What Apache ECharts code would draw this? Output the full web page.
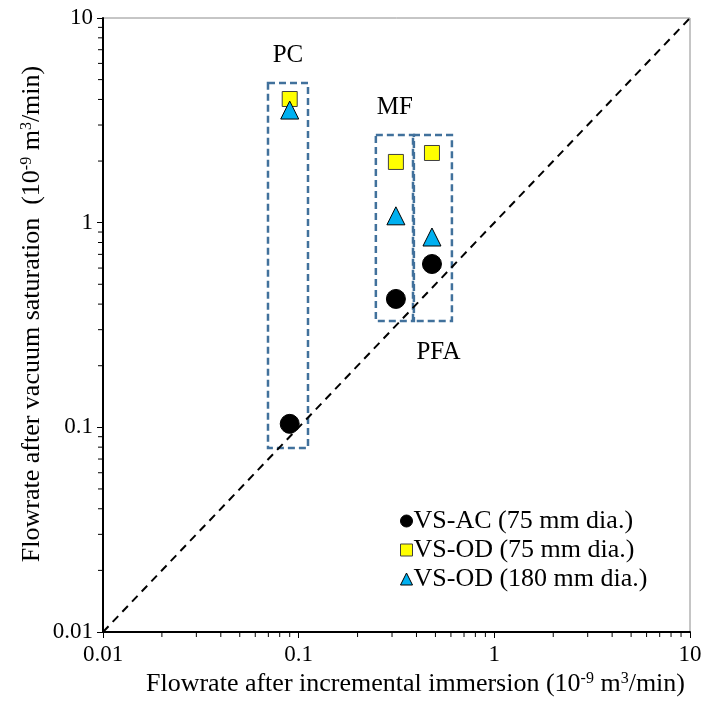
<!DOCTYPE html>
<html>
<head>
<meta charset="utf-8">
<script src="https://cdn.jsdelivr.net/npm/echarts@6/dist/echarts.min.js"></script>
<style>
  html, body { margin: 0; padding: 0; background: #fff; }
  #chart { width: 707px; height: 724px; }
</style>
</head>
<body>
<div id="chart"></div>
<script>
var font = "'Liberation Serif', 'Times New Roman', serif";

// points: [flowrate after immersion, flowrate after vacuum saturation]
var vsAc75 = [[0.090, 0.104], [0.314, 0.424], [0.480, 0.628]];
var vsOd75 = [[0.090, 4.02], [0.314, 1.98], [0.480, 2.19]];
var vsOd180 = [[0.090, 3.55], [0.314, 1.08], [0.480, 0.851]];

// groups: x0, x1, y0, y1
var groupNames = ['PC', 'MF', 'PFA'];
var groupBoxes = [
  [0.0697, 0.1116, 0.0793, 4.81],
  [0.248, 0.388, 0.331, 2.68],
  [0.384, 0.607, 0.331, 2.68]
];
var groupLabelSide = ['top', 'top', 'bottom'];
var groupLabelDx = [0, 0, 6];

var unityLine = [[0.01, 0.01], [10, 10]];
var minorTicks = [0.02, 0.03, 0.04, 0.05, 0.06, 0.07, 0.08, 0.09,
                  0.2, 0.3, 0.4, 0.5, 0.6, 0.7, 0.8, 0.9,
                  2, 3, 4, 5, 6, 7, 8, 9];

var chart = echarts.init(document.getElementById('chart'), null, { renderer: 'canvas' });

var boxData = groupBoxes.map(function(b, i) {
  return { name: groupNames[i], value: [b[0], b[1], b[2], b[3], i] };
});

function renderBox(params, api) {
  var i = api.value(4);
  var p0 = api.coord([api.value(0), api.value(3)]);
  var p1 = api.coord([api.value(1), api.value(2)]);
  var cx = (p0[0] + p1[0]) / 2 + groupLabelDx[i];
  var side = groupLabelSide[i];
  return {
    type: 'group',
    children: [{
      type: 'rect',
      shape: { x: p0[0], y: p0[1], width: p1[0] - p0[0], height: p1[1] - p0[1] },
      style: { fill: null, stroke: '#41719C', lineWidth: 2.5, lineDash: [7, 4] }
    }, {
      type: 'text',
      style: {
        text: groupNames[i],
        x: cx,
        y: side === 'top' ? p0[1] - 28 : p1[1] + 31,
        align: 'center',
        verticalAlign: 'middle',
        font: '25px ' + font,
        fill: '#000'
      }
    }]
  };
}

function renderTicks(params, api) {
  var v = api.value(0);
  var px = api.coord([v, 0.01]);
  var py = api.coord([0.01, v]);
  var st = { stroke: '#000', lineWidth: 1 };
  return {
    type: 'group',
    children: [
      { type: 'line', shape: { x1: px[0], y1: px[1], x2: px[0], y2: px[1] + 5 }, style: st },
      { type: 'line', shape: { x1: py[0], y1: py[1], x2: py[0] - 5, y2: py[1] }, style: st }
    ]
  };
}

var titleRich = {
  n: { fontFamily: font, fontSize: 26, lineHeight: 28, color: '#000', verticalAlign: 'bottom' },
  s: { fontFamily: font, fontSize: 16, lineHeight: 28, color: '#000', verticalAlign: 'top', padding: [2, 0, 0, 0] }
};

var axisCommon = {
  type: 'log',
  logBase: 10,
  min: 0.01,
  max: 10,
  nameLocation: 'middle',
  nameMoveOverlap: false,
  axisLine: { show: true, lineStyle: { color: '#000', width: 2 } },
  axisTick: { show: true, inside: false, length: 6, lineStyle: { color: '#000', width: 1 } },
  axisLabel: { fontFamily: font, fontSize: 23, color: '#000', formatter: function(v) { return String(+v.toPrecision(3)); } },
  splitLine: { show: false },
  minorTick: { show: false }
};

chart.setOption({
  animation: false,
  backgroundColor: '#fff',
  grid: { left: 103, right: 17, top: 18, bottom: 92, show: true, borderColor: '#8c8c8c', borderWidth: 1 },
  xAxis: Object.assign({}, axisCommon, {
    name: '{n|Flowrate after incremental immersion (10}{s|-9}{n| m}{s|3}{n|/min)}',
    nameGap: 37,
    nameTextStyle: { rich: titleRich, padding: [0, 0, 0, 38] },
    axisLabel: Object.assign({}, axisCommon.axisLabel, { margin: 11 })
  }),
  yAxis: Object.assign({}, axisCommon, {
    name: '{n|Flowrate after vacuum saturation  (10}{s|-9}{n| m}{s|3}{n|/min)}',
    nameGap: 58,
    nameTextStyle: { rich: titleRich, padding: [0, 0, 0, 22] },
    axisLabel: Object.assign({}, axisCommon.axisLabel, { margin: 10 })
  }),
  legend: {
    orient: 'vertical',
    left: 400,
    top: 508,
    padding: 0,
    itemGap: 3,
    itemWidth: 12,
    itemHeight: 12,
    itemStyle: { borderWidth: 1 },
    textStyle: { fontFamily: font, fontSize: 26, lineHeight: 22, color: '#000', padding: [0, 0, 0, -4] },
    data: ['VS-AC (75 mm dia.)', 'VS-OD (75 mm dia.)', 'VS-OD (180 mm dia.)']
  },
  series: [{
    type: 'custom',
    name: 'ticks',
    renderItem: renderTicks,
    clip: false,
    silent: true,
    data: minorTicks.map(function(v) { return [v]; }),
    encode: { x: 0 },
    z: 1
  }, {
    type: 'custom',
    name: 'boxes',
    renderItem: renderBox,
    clip: false,
    silent: true,
    data: boxData,
    encode: { x: [0, 1], y: [2, 3] },
    z: 2
  }, {
    type: 'line',
    name: 'unity',
    data: unityLine,
    symbol: 'none',
    lineStyle: { color: '#000', width: 2, type: [8, 6] },
    z: 3
  }, {
    type: 'scatter',
    name: 'VS-AC (75 mm dia.)',
    data: vsAc75,
    symbol: 'circle',
    symbolSize: 19,
    itemStyle: { color: '#000', borderColor: '#000', borderWidth: 1, opacity: 1 },
    z: 5
  }, {
    type: 'scatter',
    name: 'VS-OD (75 mm dia.)',
    data: vsOd75,
    symbol: 'rect',
    symbolSize: 15,
    itemStyle: { color: '#FFFF00', borderColor: '#404040', borderWidth: 1, opacity: 1 },
    z: 5
  }, {
    type: 'scatter',
    name: 'VS-OD (180 mm dia.)',
    data: vsOd180,
    symbol: 'triangle',
    symbolSize: 18,
    itemStyle: { color: '#00B0F0', borderColor: '#000', borderWidth: 1, opacity: 1 },
    z: 5
  }]
});
</script>
</body>
</html>
